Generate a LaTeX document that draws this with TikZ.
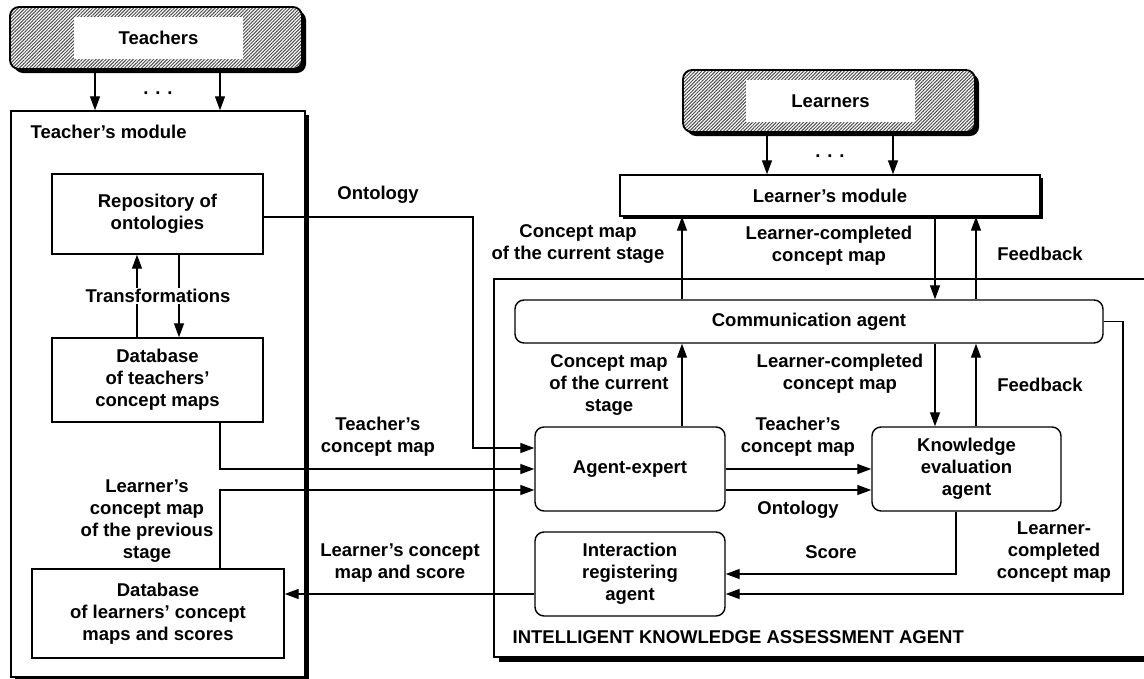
\documentclass[tikz,border=0pt]{standalone}
\usepackage{fontspec}
\setmainfont{Liberation Sans}
\usetikzlibrary{arrows.meta,patterns.meta,shadows}
\begin{document}
\begin{tikzpicture}[x=1pt,y=-1pt,
  font=\fontsize{18.5}{22}\selectfont\bfseries,
  line width=1.3pt,
  every node/.style={inner sep=0pt},
  arr/.style={-{Triangle[length=14pt,width=10pt]}},
  box/.style={draw, fill=white, line width=1.4pt, align=center},
  rbox/.style={box, rounded corners=9pt},
  shadowed/.style={drop shadow={fill=black, opacity=1, shadow scale=1,
      shadow xshift=#1, shadow yshift=-#1}},
  shadowed/.default=3pt,
  actor/.style={draw, rounded corners=9pt, line width=1.8pt, shadowed=4pt,
      preaction={fill=white},
      pattern={Lines[angle=45, distance=2.4pt, line width=1pt]},
      pattern color=black!70},
  plate/.style={fill=white, minimum width=169pt, minimum height=42pt},
  lbl/.style={align=center},
]
\useasboundingbox (0,0) rectangle (1144,678);
\clip (0,0) rectangle (1144,678);

% module frames
\node[box, shadowed=4pt, minimum width=294pt, minimum height=566pt] (tmod) at (158,394) {};
\node[anchor=west] (tmodlbl) at (30,132) {Teacher’s module};
\node[box, shadowed=5pt, minimum width=680pt, minimum height=378pt] (ikaa) at (834,468) {};
\node[anchor=west] (ikaalbl) at (512,637) {INTELLIGENT KNOWLEDGE ASSESSMENT AGENT};

% user groups
\node[actor, minimum width=292pt, minimum height=62pt] (teachers) at (156,38) {};
\node[plate] (teacherstxt) at (158.5,38) {Teachers};
\node[actor, minimum width=292pt, minimum height=62pt] (learners) at (829,101) {};
\node[plate] (learnerstxt) at (830.5,101) {Learners};
\node (tdots) at (158,93) {. . .};
\node (ldots) at (830,156) {. . .};

% teacher side stores
\node[box, minimum width=211pt, minimum height=80pt] (repo) at (157.5,214) {Repository of\\ontologies};
\node[box, minimum width=211pt, minimum height=84pt] (dbt) at (157.5,380) {Database\\of teachers’\\concept maps};
\node[box, minimum width=252pt, minimum height=89pt] (dbl) at (158,613.5) {Database\\of learners’ concept\\maps and scores};

% learner side and agents
\node[box, shadowed=3pt, minimum width=420pt, minimum height=41pt] (lmod) at (830,195.5) {Learner’s module};
\node[rbox, minimum width=588pt, minimum height=43pt] (comm) at (809,321.5) {Communication agent};
\node[rbox, minimum width=190pt, minimum height=84pt] (expert) at (630,469) {Agent-expert};
\node[rbox, minimum width=189pt, minimum height=84pt] (kea) at (966.5,469) {Knowledge\\evaluation\\agent};
\node[rbox, minimum width=190pt, minimum height=84pt] (inter) at (630,574) {Interaction\\registering\\agent};

% connectors
\draw[arr] (teachers.south -| 95,0) -- (tmod.north -| 95,0);
\draw[arr] (teachers.south -| 220,0) -- (tmod.north -| 220,0);
\draw[arr] (learners.south -| 767,0) -- (lmod.north -| 767,0);
\draw[arr] (learners.south -| 893,0) -- (lmod.north -| 893,0);

\draw[arr] (dbt.north -| 137,0) -- (repo.south -| 137,0);
\draw[arr] (repo.south -| 179,0) -- (dbt.north -| 179,0);
\node[fill=white, inner sep=1pt] (trlbl) at (158,296) {Transformations};

\draw[arr] (repo.east |- 0,217) -| (473,448) -- (expert.west |- 0,448);
\draw[arr] (dbt.south -| 220,0) |- (expert.west |- 0,469);
\draw[arr] (dbl.north -| 220,0) |- (expert.west |- 0,490);
\draw[arr] (inter.west |- 0,594) -- (dbl.east |- 0,594);

\draw[arr] (comm.north -| 682,0) -- (lmod.south -| 682,0);
\draw[arr] (lmod.south -| 935,0) -- (comm.north -| 935,0);
\draw[arr] (comm.north -| 976,0) -- (lmod.south -| 976,0);
\draw[arr] (expert.north -| 682,0) -- (comm.south -| 682,0);
\draw[arr] (comm.south -| 935,0) -- (kea.north -| 935,0);
\draw[arr] (kea.north -| 976,0) -- (comm.south -| 976,0);

\draw[arr] (expert.east |- 0,469) -- (kea.west |- 0,469);
\draw[arr] (expert.east |- 0,490) -- (kea.west |- 0,490);
\draw[arr] (kea.south -| 956,0) |- (inter.east |- 0,574);
\draw[arr] (comm.east) -| (1123,594) -- (inter.east |- 0,594);

% connector labels
\node[lbl] (l1) at (378,195) {Ontology};
\node[lbl] (l2) at (378,437) {Teacher’s\\concept map};
\node[lbl] (l3) at (147,521) {Learner’s\\concept map\\of the previous\\stage};
\node[lbl] (l4) at (400,563) {Learner’s concept\\map and score};
\node[lbl] (l5) at (578,244) {Concept map\\of the current stage};
\node[lbl] (l6) at (829,246) {Learner-completed\\concept map};
\node[lbl] (l7) at (1040,254) {Feedback};
\node[lbl] (l8) at (609,385) {Concept map\\of the current\\stage};
\node[lbl] (l9) at (840,374) {Learner-completed\\concept map};
\node[lbl] (l10) at (1040,385) {Feedback};
\node[lbl] (l11) at (798,437) {Teacher’s\\concept map};
\node[lbl] (l12) at (798,510) {Ontology};
\node[lbl] (l13) at (831,552) {Score};
\node[lbl] (l14) at (1054,552) {Learner-\\completed\\concept map};
\end{tikzpicture}
\end{document}
